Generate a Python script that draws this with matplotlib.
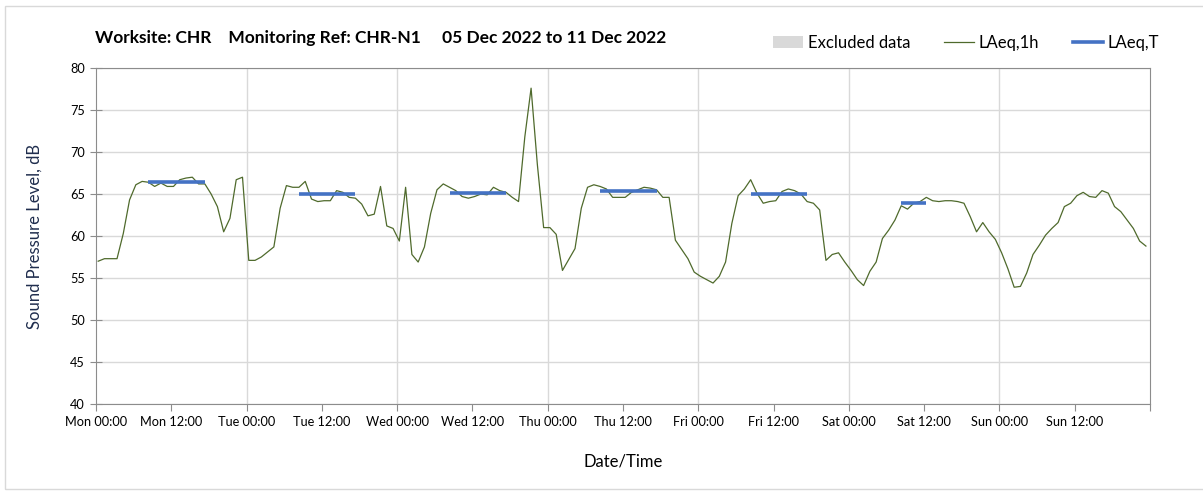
import numpy as np
import matplotlib.pyplot as plt
from matplotlib.patches import Patch, Rectangle
from matplotlib.lines import Line2D

plt.rcParams['font.family'] = ['Lato', 'DejaVu Sans']

# hourly LAeq,1h values, Mon 00:00 -> Sun 23:00
mon = [57.0, 57.3, 57.3, 57.3, 60.3, 64.3, 66.1, 66.5, 66.4, 65.9, 66.3, 65.9,
       65.9, 66.7, 66.9, 67.0, 66.2, 66.2, 65.0, 63.5, 60.5, 62.1, 66.7, 67.0]
tue = [57.1, 57.1, 57.5, 58.1, 58.7, 63.3, 66.0, 65.8, 65.8, 66.5, 64.4, 64.1,
       64.2, 64.2, 65.4, 65.2, 64.6, 64.5, 63.8, 62.4, 62.6, 65.9, 61.2, 60.9]
wed = [59.4, 65.8, 57.8, 56.9, 58.7, 62.7, 65.5, 66.2, 65.8, 65.4, 64.7, 64.5,
       64.7, 65.0, 64.9, 65.8, 65.4, 65.2, 64.6, 64.1, 71.8, 77.6, 68.5, 61.0]
thu = [61.0, 60.2, 55.9, 57.2, 58.5, 63.3, 65.8, 66.1, 65.9, 65.6, 64.6, 64.6,
       64.6, 65.2, 65.5, 65.8, 65.7, 65.5, 64.6, 64.6, 59.5, 58.4, 57.3, 55.7]
fri = [55.2, 54.8, 54.4, 55.2, 56.9, 61.5, 64.8, 65.6, 66.7, 65.1, 63.9, 64.1,
       64.2, 65.3, 65.6, 65.4, 65.0, 64.1, 63.9, 63.1, 57.1, 57.8, 58.0, 56.9]
sat = [55.9, 54.8, 54.1, 55.8, 56.9, 59.7, 60.7, 61.9, 63.6, 63.2, 63.9, 64.1,
       64.6, 64.2, 64.1, 64.2, 64.2, 64.1, 63.9, 62.3, 60.5, 61.6, 60.5, 59.6]
sun = [58.0, 56.1, 53.9, 54.0, 55.6, 57.8, 58.9, 60.1, 60.9, 61.6, 63.5, 63.9,
       64.8, 65.2, 64.7, 64.6, 65.4, 65.1, 63.5, 62.9, 61.9, 60.9, 59.4, 58.8]
laeq_1h = mon + tue + wed + thu + fri + sat + sun

# LAeq,T over the working period of each day (hours from day start)
laeq_t = [66.4, 65.0, 65.1, 65.4, 65.0, 63.9]
period_start = [8, 8, 8, 8, 8, 8]
period_end = [17, 17, 17, 17, 17, 12]

days = ['Mon', 'Tue', 'Wed', 'Thu', 'Fri', 'Sat', 'Sun']
t0 = 0.35  # offset of first sample from Mon 00:00, hours
hours = np.arange(len(laeq_1h)) + t0

fig = plt.figure(figsize=(12.03, 4.95), dpi=100)
ax = fig.add_axes([96 / 1203, 1 - 404 / 495, 1054 / 1203, 336 / 495])

# outer chart border
fig.patches.append(Rectangle((5 / 1203, 1 - 489 / 495), 1.1, 483 / 495,
                             transform=fig.transFigure, fill=False,
                             edgecolor='#d9d9d9', lw=1))

ax.plot(hours, laeq_1h, color='#4f6a2c', lw=0.9, zorder=3)
for d, v in enumerate(laeq_t):
    ax.plot([d * 24 + period_start[d] + t0, d * 24 + period_end[d] + t0], [v, v],
            color='#4472c4', lw=2.6, zorder=4, solid_capstyle='butt')

ax.set_xlim(0, 168)
ax.set_ylim(40, 80)
ax.set_yticks(np.arange(40, 81, 5))
xt = np.arange(0, 169, 12)
ax.set_xticks(xt)
labels = [f'{days[int(h // 24)]} {int(h % 24):02d}:00' for h in xt[:-1]] + ['']
ax.set_xticklabels(labels)

ax.grid(axis='y', color='#d9d9d9', lw=1)
for d in range(1, 7):
    ax.axvline(d * 24, color='#d9d9d9', lw=1, zorder=0)

for s in ax.spines.values():
    s.set_color('#8c8c8c')
ax.tick_params(axis='y', direction='inout', length=8, color='#8c8c8c',
               labelsize=9.2, pad=4)
ax.tick_params(axis='x', direction='out', length=5, color='#8c8c8c',
               labelsize=9.2, pad=4)

ax.set_ylabel('Sound Pressure Level, dB', fontsize=12, color='#1f2d4d', labelpad=20)
ax.set_xlabel('Date/Time', fontsize=12, labelpad=18)

fig.text(95 / 1203, 1 - 38 / 495,
         'Worksite: CHR    Monitoring Ref: CHR-N1     05 Dec 2022 to 11 Dec 2022',
         fontsize=12.5, fontweight='bold', va='center')

handles = [Patch(facecolor='#d9d9d9', edgecolor='none'),
           Line2D([], [], color='#4f6a2c', lw=0.9),
           Line2D([], [], color='#4472c4', lw=2.6)]
fig.legend(handles, ['Excluded data', 'LAeq,1h', 'LAeq,T'], loc='center',
           bbox_to_anchor=(966 / 1203, 1 - 43 / 495), ncol=3, frameon=False,
           fontsize=12, handlelength=1.8, handletextpad=0.3, columnspacing=2.0)

fig.savefig('out.png', dpi=100)
